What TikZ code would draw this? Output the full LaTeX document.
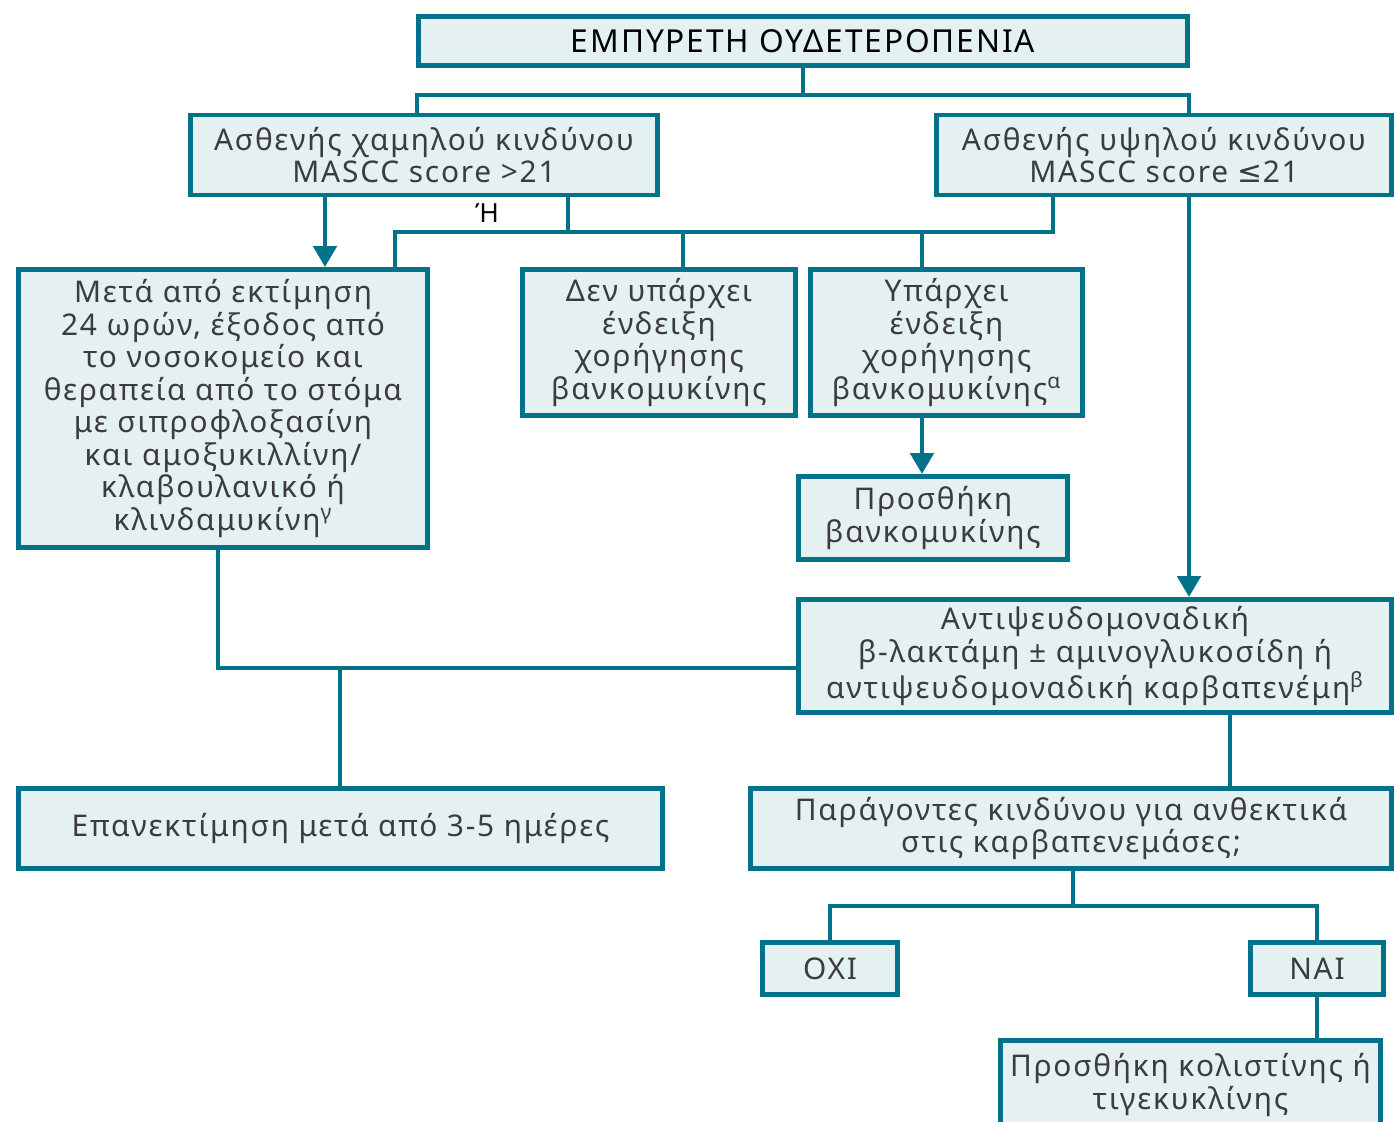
\documentclass[tikz,border=0pt]{standalone}
\usepackage{fontspec}
\setmainfont{Noto Sans}[LetterSpace=6]
\newfontfamily\symfont{DejaVu Sans}
\usetikzlibrary{arrows.meta, positioning}
\definecolor{frame}{HTML}{00728A}
\definecolor{framebg}{HTML}{E4F0F2}
\definecolor{ink}{HTML}{3C3C3C}
\tikzset{
    box/.style={rectangle, draw=frame, fill=framebg, line width=2.8pt,
                align=center, text=ink, inner sep=2pt,
                font=\fontsize{17}{18.5}\selectfont},
    link/.style={draw=frame, line width=2.8pt},
    arr/.style={link, -{Triangle[width=0.46cm, length=0.42cm]}},
}

\begin{document}
\begin{tikzpicture}[x=0.02cm, y=-0.02cm]

  \useasboundingbox (0,0) rectangle (1396,1122);

  % first row
  \node[box, minimum width=15.38cm, minimum height=0.98cm, text=black,
        font=\fontsize{18}{20}\selectfont] (fever) at (803,41)
        {ΕΜΠΥΡΕΤΗ ΟΥΔΕΤΕΡΟΠΕΝΙΑ};
  \node[box, minimum width=9.34cm, minimum height=1.6cm] (low) at (424,155)
        {Ασθενής χαμηλού κινδύνου\\MASCC score >21};
  \node[box, minimum width=9.1cm, minimum height=1.6cm] (high) at (1164,155)
        {Ασθενής υψηλού κινδύνου\\MASCC score {\symfont ≤}21};

  % treatment choices
  \node[box, minimum width=8.18cm, minimum height=5.56cm] (oral) at (223,408.5)
        {Μετά από εκτίμηση\\24 ωρών, έξοδος από\\το νοσοκομείο και\\θεραπεία από το στόμα\\με σιπροφλοξασίνη\\και αμοξυκιλλίνη/\\κλαβουλανικό ή\\κλινδαμυκίνη\textsuperscript{γ}};
  \node[box, minimum width=5.46cm, minimum height=2.92cm] (novanco) at (659,342.5)
        {Δεν υπάρχει\\ένδειξη\\χορήγησης\\βανκομυκίνης};
  \node[box, minimum width=5.44cm, minimum height=2.92cm] (vanco) at (946.5,342.5)
        {Υπάρχει\\ένδειξη\\χορήγησης\\βανκομυκίνης\textsuperscript{α}};
  \node[box, minimum width=5.38cm, minimum height=1.66cm] (addvanco) at (933,518)
        {Προσθήκη\\βανκομυκίνης};
  \node[box, minimum width=11.86cm, minimum height=2.26cm] (antipseudo) at (1095,656)
        {Αντιψευδομοναδική\\β-λακτάμη ± αμινογλυκοσίδη ή\\αντιψευδομοναδική καρβαπενέμη\textsuperscript{β}};

  % follow-up
  \node[box, minimum width=12.88cm, minimum height=1.6cm] (reeval) at (340.5,828.5)
        {Επανεκτίμηση μετά από 3-5 ημέρες};
  \node[box, minimum width=12.82cm, minimum height=1.6cm] (carba) at (1071,828.5)
        {Παράγοντες κινδύνου για ανθεκτικά\\στις καρβαπενεμάσες;};
  \node[box, minimum width=2.7cm, minimum height=1.04cm] (no) at (830,968.5) {ΟΧΙ};
  \node[box, minimum width=2.66cm, minimum height=1.04cm] (yes) at (1317,968.5) {ΝΑΙ};
  \node[box, minimum width=7.6cm, minimum height=1.78cm] (colistin) at (1190.5,1085)
        {Προσθήκη κολιστίνης ή\\τιγεκυκλίνης};

  % junctions
  \coordinate (split) at (803,95);
  \coordinate (lowdrop) at (417,95);
  \coordinate (highdrop) at (1189,95);
  \coordinate (barL) at (395,232);
  \coordinate (barR) at (1053,232);
  \coordinate (orup) at (568,232);
  \coordinate (nodrop) at (683,232);
  \coordinate (yesdrop) at (922,232);
  \coordinate (merge) at (340,668);
  \coordinate (oraldrop) at (218,668);
  \coordinate (fork) at (1073,906);

  \draw[link] (fever.south) -- (split);
  \draw[link] (low.north -| lowdrop) -- (lowdrop) -- (highdrop) -- (high.north -| highdrop);
  \draw[arr] (low.south -| 325,0) -- (oral.north -| 325,0);
  \draw[link] (low.south -| orup) -- (orup);
  \draw[link] (oral.north -| barL) -- (barL) -- (barR) -- (high.south -| barR);
  \draw[link] (nodrop) -- (novanco.north -| nodrop);
  \draw[link] (yesdrop) -- (vanco.north -| yesdrop);
  \node[font=\fontsize{15}{18}\selectfont, text=black] (orlabel) at (487,213) {Ή};
  \draw[arr] (high.south -| highdrop) -- (antipseudo.north -| highdrop);
  \draw[arr] (vanco.south -| yesdrop) -- (addvanco.north -| yesdrop);
  \draw[link] (oral.south -| oraldrop) -- (oraldrop) -- (antipseudo.west |- merge);
  \draw[link] (merge) -- (reeval.north -| merge);
  \draw[link] (antipseudo.south -| 1230,0) -- (carba.north -| 1230,0);
  \draw[link] (carba.south -| fork) -- (fork);
  \draw[link] (no.north) |- (fork) -| (yes.north);
  \draw[link] (yes.south) -- (colistin.north -| yes.south);

\end{tikzpicture}
\end{document}
